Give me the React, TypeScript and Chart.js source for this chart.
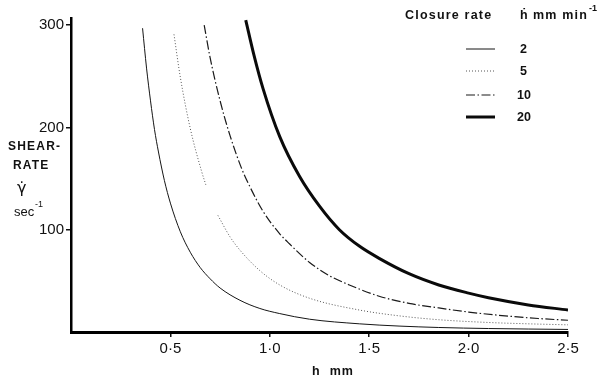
import React, { useEffect, useRef } from "react";
import { Chart, registerables } from "chart.js";

Chart.register(...registerables);

// Closure rate 2 mm/min (thin solid)
const h2 = [0.36, 0.38, 0.4, 0.42, 0.44, 0.47, 0.5, 0.55, 0.6, 0.65, 0.7, 0.75, 0.85, 0.95, 1.05, 1.2, 1.45, 1.65, 1.85, 2.1, 2.3, 2.5];
const rate2 = [297, 258, 226, 198, 176, 148, 126, 98, 78, 63, 52, 43, 31, 23, 18, 12.5, 8, 5.8, 4.4, 3.4, 2.9, 2.5];

// Closure rate 5 mm/min (dotted, with a break)
const h5 = [0.518, 0.55, 0.6, 0.657, 0.678, 0.71, 0.739, 0.8, 0.85, 0.95, 1.05, 1.2, 1.45, 1.65, 1.85, 2.1, 2.3, 2.5];
const rate5: (number | null)[] = [291, 249, 199, 157, 144, null, 114, 93, 80, 60, 46, 33, 21.5, 15.8, 12, 9.3, 8, 7];

// Closure rate 10 mm/min (dash-dot)
const h10 = [0.67, 0.7, 0.75, 0.8, 0.858, 0.9, 0.966, 1.05, 1.1, 1.2, 1.3, 1.4, 1.55, 1.7, 1.85, 2.0, 2.2, 2.35, 2.5];
const rate10 = [300, 268, 226, 192, 160, 142, 118, 96, 86, 68, 55, 46, 35, 28, 23.5, 19.5, 15.5, 13.2, 11.5];

// Closure rate 20 mm/min (thick)
const h20 = [0.879, 0.92, 0.966, 1.05, 1.15, 1.25, 1.35, 1.45, 1.55, 1.7, 1.85, 2.0, 2.1, 2.3, 2.5];
const rate20 = [305, 271, 238, 191, 152, 123, 100, 84, 72, 57, 46, 38, 33.5, 26.5, 21.5];

const xTicks = [0.5, 1.0, 1.5, 2.0, 2.5];
const yTicks = [100, 200, 300];
const legendLabels = ["2", "5", "10", "20"];

const INK = "#111";
const FONT = '"Liberation Sans", Arial, sans-serif';

const styles = [
  { width: 1, dash: [] as number[], color: "#151515" },
  { width: 1, dash: [1, 2], color: "#555" },
  { width: 1.2, dash: [9, 2.5, 1.5, 2.5], color: "#1a1a1a" },
  { width: 3, dash: [] as number[], color: "#0a0a0a" },
];

function pts(h: number[], r: (number | null)[]) {
  return h.map((x, i) => ({ x, y: r[i] }));
}

const textPlugin = {
  id: "annotText",
  afterDraw(chart: any) {
    const ctx: CanvasRenderingContext2D = chart.ctx;
    ctx.save();
    ctx.fillStyle = INK;
    ctx.textBaseline = "middle";
    ctx.textAlign = "left";

    // Y axis title
    ctx.font = `bold 12px ${FONT}`;
    (ctx as any).letterSpacing = "1.2px";
    ctx.fillText("SHEAR-", 8, 147);
    ctx.fillText("RATE", 13, 166);
    (ctx as any).letterSpacing = "0px";
    ctx.font = `16px "DejaVu Sans", sans-serif`;
    ctx.fillText("\u03B3\u0307", 17, 189);
    ctx.font = `13px ${FONT}`;
    ctx.fillText("sec", 14, 212);
    ctx.font = `9px ${FONT}`;
    ctx.fillText("-1", 35, 205);

    // X axis title
    ctx.font = `bold 12.5px ${FONT}`;
    (ctx as any).letterSpacing = "1px";
    ctx.textAlign = "center";
    ctx.fillText("h  mm", 333, 372);

    // Legend header
    ctx.textAlign = "left";
    ctx.font = `bold 12.5px ${FONT}`;
    (ctx as any).letterSpacing = "1.2px";
    ctx.fillText("Closure rate", 405, 16);
    ctx.fillText("\u1E23", 520, 16);
    ctx.fillText("mm min", 533, 16);
    (ctx as any).letterSpacing = "0px";
    ctx.font = `bold 9px ${FONT}`;
    ctx.fillText("-1", 589, 9);

    // Legend entries
    const rows = [49, 71, 95, 117];
    legendLabels.forEach((lab, i) => {
      const s = styles[i];
      ctx.beginPath();
      ctx.setLineDash(s.dash);
      ctx.lineWidth = s.width;
      ctx.strokeStyle = s.color;
      ctx.moveTo(466, rows[i]);
      ctx.lineTo(495, rows[i]);
      ctx.stroke();
      ctx.setLineDash([]);
      ctx.font = `bold 12.5px ${FONT}`;
      ctx.fillStyle = INK;
      ctx.fillText(lab, lab.length > 1 ? 517 : 520, rows[i] + 1);
    });
    ctx.restore();
  },
};

export default function App() {
  const ref = useRef<HTMLCanvasElement | null>(null);

  useEffect(() => {
    document.body.style.margin = "0";
    const canvas = ref.current;
    if (!canvas) return;
    const series = [pts(h2, rate2), pts(h5, rate5), pts(h10, rate10), pts(h20, rate20)];
    const chart = new Chart(canvas, {
      type: "line",
      data: {
        datasets: series.map((d, i) => ({
          label: legendLabels[i],
          data: d as any,
          borderColor: styles[i].color,
          borderWidth: styles[i].width,
          borderDash: styles[i].dash,
          pointRadius: 0,
          fill: false,
          cubicInterpolationMode: "monotone" as const,
          spanGaps: false,
        })),
      },
      options: {
        animation: false,
        responsive: false,
        devicePixelRatio: 1,
        layout: { padding: { top: 18, right: 29, left: 0, bottom: 0 } },
        plugins: { legend: { display: false }, tooltip: { enabled: false } },
        scales: {
          x: {
            type: "linear",
            min: 0,
            max: 2.5,
            afterFit: (s: any) => {
              s.height = 50;
            },
            afterBuildTicks: (s: any) => {
              s.ticks = xTicks.map((v) => ({ value: v }));
            },
            ticks: {
              color: INK,
              padding: 3,
              font: { family: FONT, size: 15 },
              callback: (v: any) => Number(v).toFixed(1).replace(".", "\u00B7"),
            },
            grid: { drawOnChartArea: false, drawTicks: true, tickLength: 5, color: INK, lineWidth: 1.5 },
            border: { display: true, color: "#000", width: 3 },
          },
          y: {
            type: "linear",
            min: 0,
            max: 307,
            afterFit: (s: any) => {
              s.width = 71;
            },
            afterBuildTicks: (s: any) => {
              s.ticks = yTicks.map((v) => ({ value: v }));
            },
            ticks: {
              color: INK,
              padding: 2,
              font: { family: FONT, size: 15 },
              callback: (v: any) => String(v),
            },
            grid: { drawOnChartArea: false, drawTicks: true, tickLength: 5, color: INK, lineWidth: 1.5 },
            border: { display: true, color: "#000", width: 2.5 },
          },
        },
      },
      plugins: [textPlugin],
    });
    return () => chart.destroy();
  }, []);

  return (
    <div style={{ width: 597, height: 382, background: "#fff" }}>
      <canvas ref={ref} width={597} height={382} />
    </div>
  );
}
